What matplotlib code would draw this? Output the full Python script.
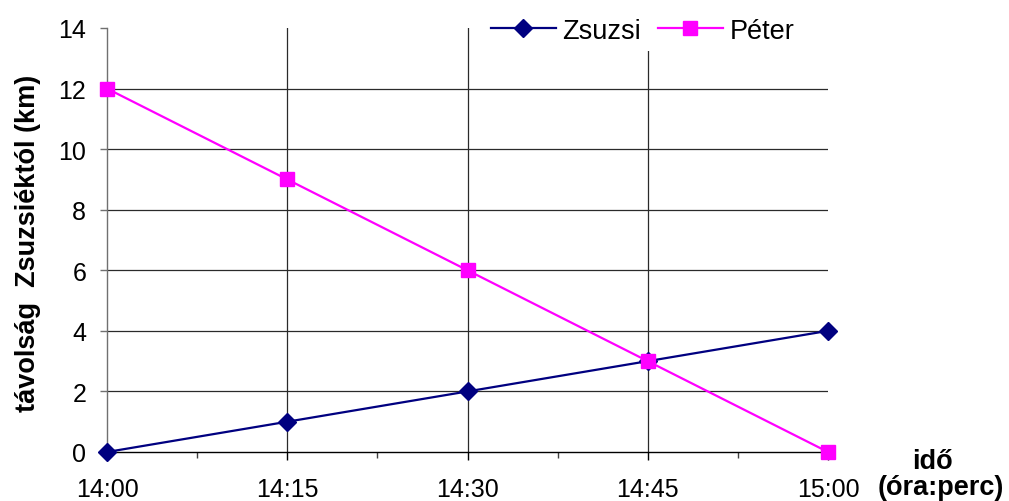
import matplotlib
matplotlib.use("Agg")
import matplotlib.pyplot as plt
from matplotlib.ticker import FixedLocator

plt.rcParams['font.family'] = ['Liberation Sans', 'DejaVu Sans']

# Data: distance from Zsuzsi's home (km) every quarter hour
time_labels = ["14:00", "14:15", "14:30", "14:45", "15:00"]
zsuzsi = [0, 1, 2, 3, 4]
peter = [12, 9, 6, 3, 0]
y_ticks = [0, 2, 4, 6, 8, 10, 12, 14]

W, H, DPI = 1009, 502, 100
fig = plt.figure(figsize=(W / DPI, H / DPI), dpi=DPI)
ax = fig.add_axes([107 / W, 1 - 453 / H, (828 - 107) / W, (453 - 29) / H])

x = list(range(len(time_labels)))

# Grid lines (drawn below the data)
grid_color = "#2a2a2a"
for yv in y_ticks[1:-1]:
    ax.axhline(yv, color=grid_color, lw=0.9, zorder=1)
for xv in x[1:-1]:
    ax.axvline(xv, color=grid_color, lw=0.9, zorder=1)

ax.plot(x, zsuzsi, color="#000080", lw=1.6, marker="D", markersize=8.8,
        markerfacecolor="#000080", markeredgecolor="#000080", label="Zsuzsi",
        zorder=3, clip_on=False)
ax.plot(x, peter, color="#FF00FF", lw=1.6, marker="s", markersize=10.3,
        markerfacecolor="#FF00FF", markeredgecolor="#FF00FF", label="Péter",
        zorder=3, clip_on=False)

ax.set_xlim(0, len(x) - 1)
ax.set_ylim(0, 14)
ax.set_xticks(x)
ax.set_xticklabels(time_labels)
ax.xaxis.set_minor_locator(FixedLocator([0.5, 1.5, 2.5, 3.5]))
ax.set_yticks(y_ticks)

ax.spines['top'].set_visible(False)
ax.spines['right'].set_visible(False)
ax.spines['left'].set_color("#707070")
ax.spines['bottom'].set_color("#000000")
ax.spines['left'].set_linewidth(1.0)
ax.spines['bottom'].set_linewidth(1.0)

ax.tick_params(axis='x', which='major', direction='out', length=6, width=1.0,
               color="#000000", labelsize=18, pad=12)
ax.tick_params(axis='x', which='minor', direction='out', length=4, width=1.0,
               color="#404040")
ax.tick_params(axis='y', which='major', direction='out', length=5, width=1.0,
               color="#707070", labelsize=18, pad=10)

leg = ax.legend(loc='upper left', bbox_to_anchor=(484 / W, 1 - 12 / H),
                bbox_transform=fig.transFigure, ncol=2, frameon=True,
                fontsize=19.5, handlelength=2.4, handletextpad=0.25,
                columnspacing=0.6, borderpad=0.25, borderaxespad=0)
leg.get_frame().set_facecolor("white")
leg.get_frame().set_edgecolor("none")
leg.get_frame().set_alpha(1)
leg.set_zorder(5)

fig.text(28 / W, 1 - 243 / H, "távolság  Zsuzsiéktól (km)", rotation=90,
         ha='center', va='center', fontsize=19.5, fontweight='bold')
fig.text(932 / W, 1 - 469 / H, "idő", ha='center', va='baseline',
         fontsize=19.5, fontweight='bold')
fig.text(941 / W, 1 - 495 / H, "(óra:perc)", ha='center', va='baseline',
         fontsize=19.5, fontweight='bold')

fig.savefig("out.png", dpi=DPI)
